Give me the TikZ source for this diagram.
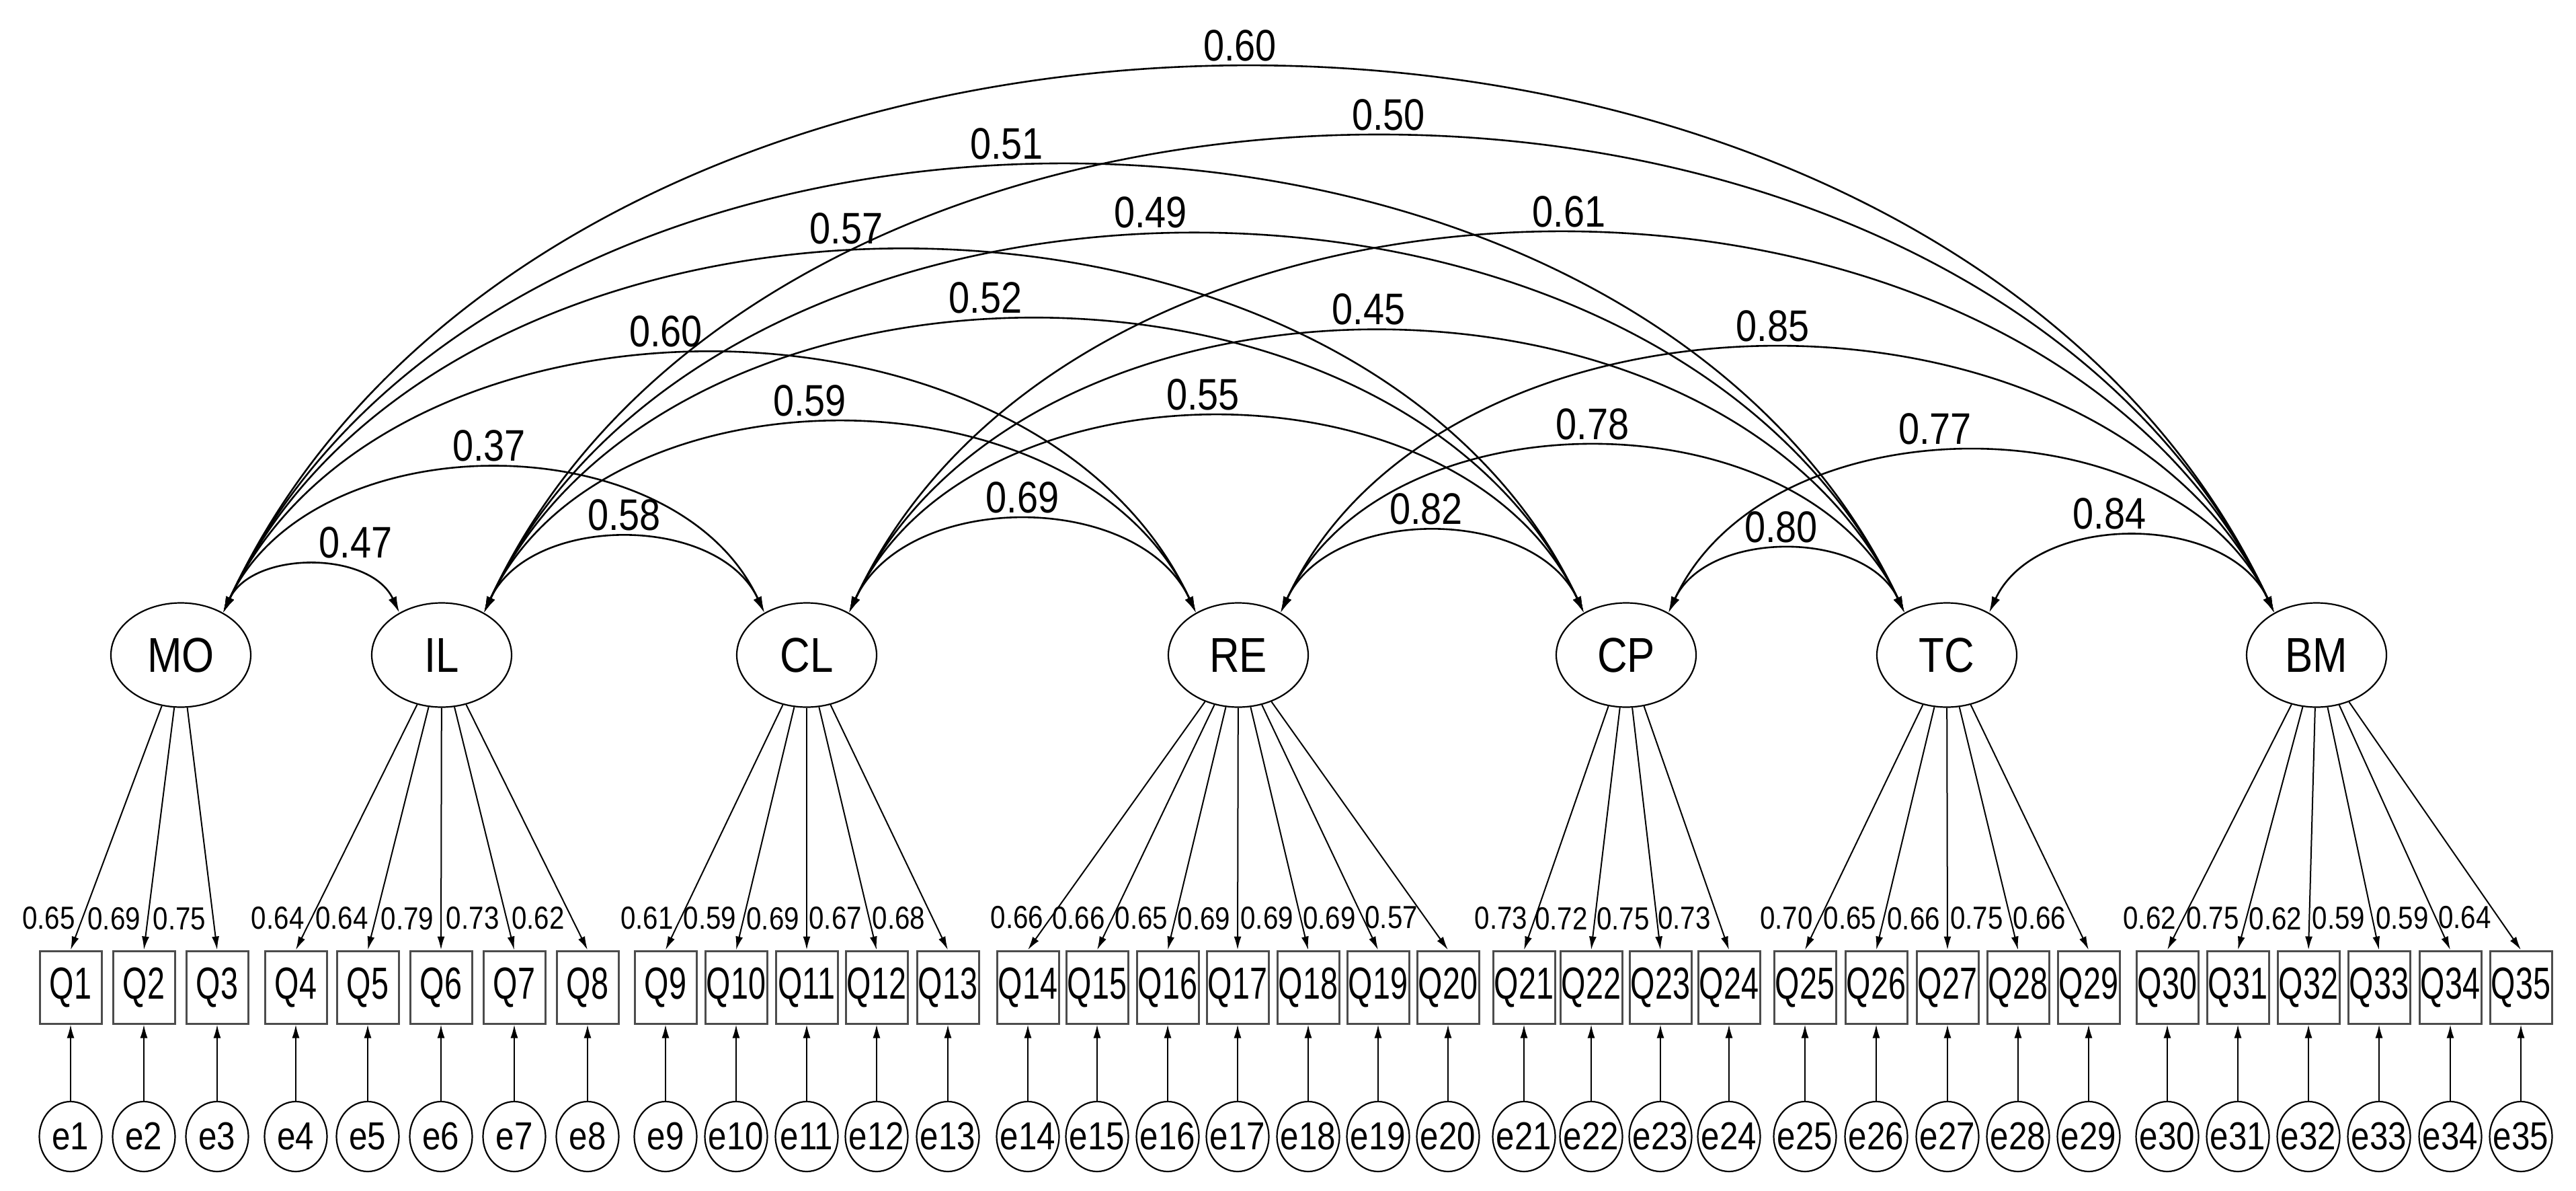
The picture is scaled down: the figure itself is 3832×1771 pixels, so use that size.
\documentclass[tikz,border=0pt]{standalone}
\usepackage{fontspec}
\newfontfamily\semfont[FakeStretch=0.85]{Liberation Sans}
\newfontfamily\itemfont[FakeStretch=0.7]{Liberation Sans}
\usetikzlibrary{arrows.meta,shapes.geometric}

\begin{document}
\begin{tikzpicture}[
            x=0.1mm,
            y=-0.1mm,
            latent/.style={
                draw,
                ellipse,
                line width=0.22mm,
                minimum width=20.8mm,
                minimum height=15.5mm,
                inner sep=0pt,
                font=\semfont\fontsize{20.7}{24}\selectfont
            },
            indicator/.style={
                draw=black!70,
                line width=0.3mm,
                minimum width=9.2mm,
                minimum height=10.8mm,
                inner sep=0pt,
                font=\itemfont\fontsize{19}{22}\selectfont
            },
            residual/.style={
                draw,
                ellipse,
                line width=0.22mm,
                minimum width=9.3mm,
                minimum height=10.4mm,
                inner xsep=-1.5mm,
                inner ysep=0pt,
                font=\semfont\fontsize{16.5}{19}\selectfont
            },
            loading/.style={
                -{Latex[length=2mm,width=1.1mm]},
                line width=0.2mm
            },
            covar/.style={
                {Latex[length=2.4mm,width=1.3mm]}-{Latex[length=2.4mm,width=1.3mm]},
                line width=0.26mm,
                bend left=65
            },
            loadval/.style={
                pos=0.87,
                anchor=east,
                inner sep=1mm,
                font=\semfont\fontsize{13.5}{16}\selectfont
            },
            covval/.style={
                anchor=south,
                inner sep=1mm,
                font=\semfont\fontsize{18.7}{21}\selectfont
            }
        ]

            % Layout parameters
            \def\yLat{974}
            \def\yItem{1468}
            \def\yErr{1690}

            \useasboundingbox (0,0) rectangle (3832,1771);

            % --- Latent factors ---
            \foreach \f/\x in {MO/269,IL/657,CL/1200,RE/1842,CP/2419,TC/2896,BM/3446} {
                \node[latent] (\f) at (\x,\yLat) {\f};
            }

            % Items Q_i with their error terms e_i
            \foreach \x [count=\i] in {105,214,323,440,547,656,765,874,990,1095,1200,1304,1410,1529,1632,1737,1841,1946,2050,2154,2267,2367,2470,2572,2685,2791,2897,3002,3107,3224,3329,3434,3539,3645,3750} {
                \node[indicator] (Q\i) at (\x,\yItem) {Q\i};
                \node[residual] (e\i) at (\x,\yErr) {e\i};
                \draw[loading] (e\i) -- (Q\i);
            }

            % Factor loadings
            \foreach \f/\i/\v in {MO/1/0.65,MO/2/0.69,MO/3/0.75,
                IL/4/0.64,IL/5/0.64,IL/6/0.79,IL/7/0.73,IL/8/0.62,
                CL/9/0.61,CL/10/0.59,CL/11/0.69,CL/12/0.67,CL/13/0.68,
                RE/14/0.66,RE/15/0.66,RE/16/0.65,RE/17/0.69,RE/18/0.69,RE/19/0.69,RE/20/0.57,
                CP/21/0.73,CP/22/0.72,CP/23/0.75,CP/24/0.73,
                TC/25/0.70,TC/26/0.65,TC/27/0.66,TC/28/0.75,TC/29/0.66,
                BM/30/0.62,BM/31/0.75,BM/32/0.62,BM/33/0.59,BM/34/0.59,BM/35/0.64} {
                \draw[loading] (\f) -- (Q\i.north) node[loadval] {\v};
            }

            % Correlations between factors (label shift in mm)
            \foreach \p/\q/\v/\dx in {MO/IL/0.47/6.6,MO/CL/0.37/-0.7,MO/RE/0.60/-6.5,
                MO/CP/0.57/-8.5,MO/TC/0.51/-8.5,MO/BM/0.60/-1.3,
                IL/CL/0.58/0,IL/RE/0.59/-4.5,IL/CP/0.52/-7.2,IL/TC/0.49/-6.5,IL/BM/0.50/1.4,
                CL/RE/0.69/0,CL/CP/0.55/-2,CL/TC/0.45/-1.2,CL/BM/0.61/1.1,
                RE/CP/0.82/-0.9,RE/TC/0.78/0,RE/BM/0.85/-0.7,
                CP/TC/0.80/-0.8,CP/BM/0.77/-5.4,
                TC/BM/0.84/-3.3} {
                \draw[covar] (\p.45) to node[covval, xshift=\dx mm] {\v} (\q.135);
            }

        \end{tikzpicture}
\end{document}
